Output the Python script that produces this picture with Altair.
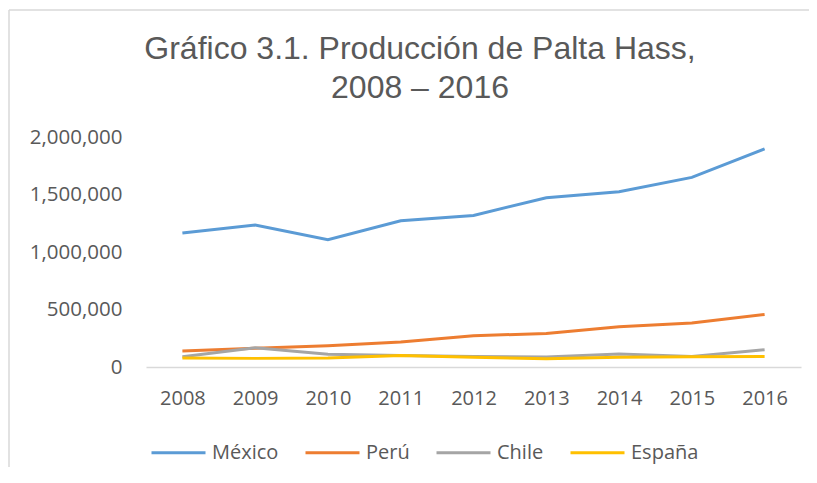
import altair as alt
import pandas as pd

years = ["2008", "2009", "2010", "2011", "2012", "2013", "2014", "2015", "2016"]
mexico = [1165000, 1235000, 1107000, 1272000, 1318000, 1472000, 1524000, 1649000, 1896000]
peru = [139000, 162000, 185000, 217000, 272000, 292000, 350000, 382000, 457000]
chile = [90000, 168000, 110000, 101000, 92000, 87000, 113000, 92000, 150000]
espana = [78000, 75000, 78000, 101000, 84000, 72000, 84000, 90000, 92000]
series_names = ["México", "Perú", "Chile", "España"]
series_colors = ["#5B9BD5", "#ED7D31", "#A5A5A5", "#FFC000"]
title_lines = ["Gráfico 3.1. Producción de Palta Hass,", "2008 – 2016"]

rows = []
for name, vals in zip(series_names, [mexico, peru, chile, espana]):
    for i, (y, v) in enumerate(zip(years, vals)):
        rows.append({"Año": y, "País": name, "Producción": v})
df = pd.DataFrame(rows)
df["orden"] = df["País"].map({n: i for i, n in enumerate(series_names)})

GRAY = "#595959"
FONT = "Open Sans"

lines = alt.Chart(df).mark_line(strokeWidth=3).encode(
    x=alt.X("Año:O", sort=years,
            scale=alt.Scale(type="point", padding=0.5),
            axis=alt.Axis(title=None, labelAngle=0, ticks=False, domain=True,
                          domainColor="#D9D9D9", domainWidth=1.5,
                          labelPadding=21, labelFontSize=20, labelFont=FONT,
                          labelColor=GRAY, grid=False)),
    y=alt.Y("Producción:Q",
            scale=alt.Scale(domain=[0, 2000000], nice=False),
            axis=alt.Axis(title=None, values=[0, 500000, 1000000, 1500000, 2000000],
                          format=",d", ticks=False, domain=False, grid=False,
                          labelPadding=24, labelFontSize=20.5, labelFont=FONT,
                          labelColor=GRAY)),
    color=alt.Color("País:N",
                    scale=alt.Scale(domain=series_names, range=series_colors),
                    legend=alt.Legend(title=None, orient="none", direction="horizontal",
                                      legendX=4, legendY=287,
                                      symbolType="stroke", symbolSize=2916,
                                      symbolStrokeWidth=3, labelFontSize=20,
                                      labelFont=FONT, labelColor=GRAY,
                                      labelOffset=5, columnPadding=20)),
    order=alt.Order("orden:Q"),
)

title_df = pd.DataFrame({"t": [0]})
title = alt.Chart(title_df).mark_text(
    align="center", baseline="alphabetic", fontSize=32, font="Liberation Sans",
    color=GRAY, lineHeight=39,
).encode(x=alt.value(274), y=alt.value(-78), text=alt.value(title_lines))

frame_v = alt.Chart(title_df).mark_rule(color="#D9D9D9", strokeWidth=1.5).encode(
    x=alt.value(-137), y=alt.value(-127), y2=alt.value(400))
frame_h = alt.Chart(title_df).mark_rule(color="#D9D9D9", strokeWidth=1.5).encode(
    x=alt.value(-137), x2=alt.value(700), y=alt.value(-127))

chart = alt.layer(frame_v, frame_h, lines, title).properties(
    width=655, height=230,
    autosize=alt.AutoSizeParams(type="none"),
    padding={"left": 138, "top": 129, "right": 8, "bottom": 100},
).configure_view(stroke=None)

chart.save("out.html", embed_options={"renderer": "svg", "actions": False})
